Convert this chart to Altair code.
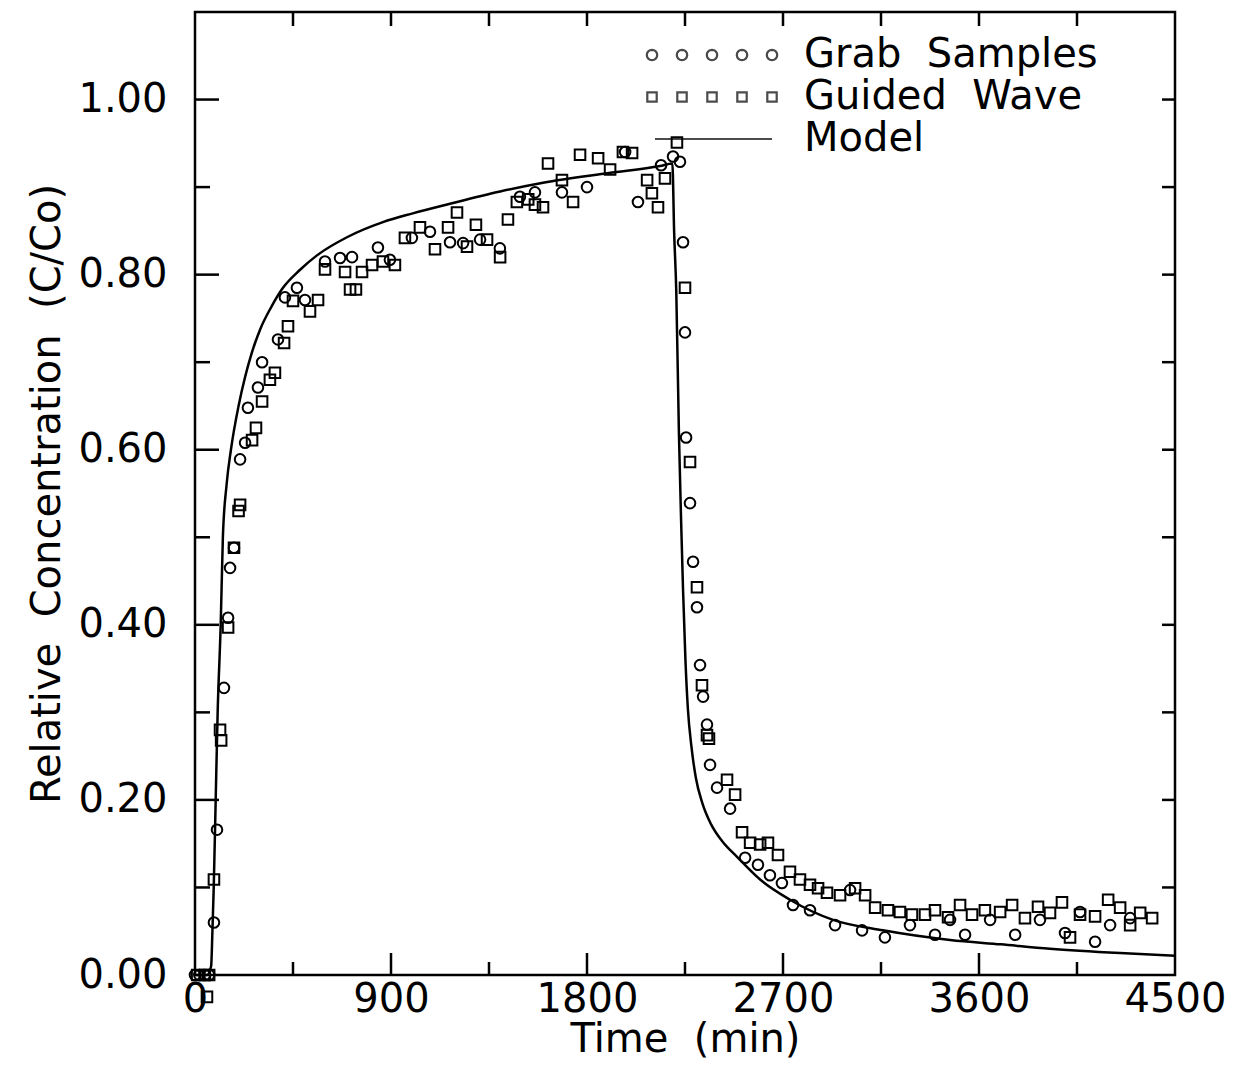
import math
import altair as alt
import pandas as pd

# ---------------- data ----------------
grab_t = [0, 20, 45, 65, 87, 101, 133, 152, 161, 179, 207, 230, 243, 289, 308, 381, 413, 468, 505,
          597, 666, 721, 840, 895, 996, 1079, 1171, 1231, 1309, 1400, 1492, 1561, 1685, 1800, 1975,
          2034, 2140, 2195, 2227,
          2241, 2250, 2255, 2273, 2287, 2305, 2319, 2333, 2351, 2365, 2397, 2457, 2526, 2585, 2640,
          2695, 2746, 2824, 2939, 3008, 3063, 3168, 3283, 3398, 3467, 3536, 3651, 3766, 3880, 3995,
          4064, 4133, 4202, 4294]
grab_c = [0, 0, 0, 0, 0.06, 0.166, 0.328, 0.408, 0.465, 0.488, 0.589, 0.608, 0.648, 0.671, 0.70,
          0.726, 0.774, 0.785, 0.771, 0.815, 0.819, 0.82, 0.831, 0.817, 0.842, 0.849, 0.837, 0.836,
          0.84, 0.83, 0.889, 0.894, 0.894, 0.90, 0.94, 0.883, 0.925, 0.935, 0.929,
          0.837, 0.734, 0.614, 0.539, 0.472, 0.42, 0.354, 0.318, 0.286, 0.24, 0.214, 0.19, 0.134,
          0.126, 0.114, 0.105, 0.08, 0.074, 0.057, 0.097, 0.051, 0.043, 0.057, 0.046, 0.063, 0.046,
          0.063, 0.046, 0.063, 0.048, 0.072, 0.038, 0.057, 0.065]

wave_t = [10, 45, 65, 55, 87, 115, 120, 152, 179, 200, 207, 262, 280, 308, 344, 367, 409, 427, 450,
          528, 565, 597, 689, 712, 739, 767, 813, 863, 918, 964, 1033, 1102, 1162, 1203, 1249, 1290,
          1341, 1401, 1437, 1478, 1530, 1561, 1598, 1621, 1685, 1736, 1768, 1851, 1906, 1965, 2007,
          2076, 2098, 2126, 2158, 2213,
          2250, 2273, 2305, 2328, 2351, 2360, 2443, 2480, 2512, 2549, 2595, 2631, 2677, 2732, 2778,
          2824, 2861, 2902, 2962, 3031, 3077, 3123, 3182, 3237, 3292, 3352, 3398, 3458, 3513, 3568,
          3627, 3697, 3752, 3811, 3871, 3926, 3981, 4018, 4064, 4133, 4193, 4248, 4294, 4340, 4395]
wave_c = [0, 0, 0, -0.025, 0.109, 0.28, 0.268, 0.397, 0.488, 0.53, 0.537, 0.611, 0.625, 0.655, 0.68,
          0.688, 0.722, 0.741, 0.77, 0.758, 0.771, 0.806, 0.803, 0.783, 0.783, 0.803, 0.811, 0.815,
          0.811, 0.842, 0.854, 0.829, 0.854, 0.871, 0.832, 0.857, 0.84, 0.82, 0.863, 0.883, 0.886,
          0.88, 0.877, 0.927, 0.908, 0.883, 0.937, 0.933, 0.92, 0.94, 0.939, 0.908, 0.893, 0.877,
          0.91, 0.951,
          0.785, 0.586, 0.443, 0.331, 0.274, 0.27, 0.223, 0.206, 0.163, 0.151, 0.149, 0.151, 0.137,
          0.118, 0.109, 0.103, 0.099, 0.094, 0.091, 0.099, 0.091, 0.077, 0.074, 0.072, 0.069, 0.069,
          0.074, 0.066, 0.08, 0.069, 0.074, 0.072, 0.08, 0.065, 0.078, 0.071, 0.083, 0.043, 0.069,
          0.067, 0.086, 0.077, 0.057, 0.071, 0.065]

model_t = [0, 55, 74, 80, 86, 95, 104, 118, 128, 145, 165, 200, 230, 260, 300, 350, 404, 480, 560,
           700, 863, 1000, 1171, 1401, 1598, 1900, 2135, 2192, 2200, 2210, 2222, 2232, 2241, 2252,
           2263, 2280, 2300, 2330, 2370, 2420, 2489, 2595, 2732, 2930, 3159, 3467, 3700, 3926, 4248,
           4500]
model_c = [0, 0, 0.01, 0.05, 0.1, 0.2, 0.3, 0.4, 0.5, 0.56, 0.6, 0.65, 0.683, 0.71, 0.738, 0.763,
           0.785, 0.805, 0.822, 0.843, 0.86, 0.87, 0.881, 0.895, 0.905, 0.916, 0.924, 0.927, 0.85,
           0.78, 0.62, 0.52, 0.44, 0.36, 0.305, 0.26, 0.225, 0.196, 0.172, 0.153, 0.135, 0.109,
           0.086, 0.063, 0.051, 0.04, 0.035, 0.03, 0.025, 0.022]

series_names = ["Grab Samples", "Guided Wave", "Model"]
x_labels = [0, 900, 1800, 2700, 3600, 4500]
y_labels = [0.0, 0.2, 0.4, 0.6, 0.8, 1.0]
x_major_ticks = [900, 1800, 2700, 3600]
x_minor_ticks = [450, 1350, 2250, 3150, 4050]
y_major_ticks = [0.2, 0.4, 0.6, 0.8, 1.0]
y_minor_ticks = [0.1, 0.3, 0.5, 0.7, 0.9]

# ---------------- style ----------------
W, H = 980, 963
FONT = "DejaVu Sans"
FS = 40
LW = 2.5


def ring(cx, r, n=16):
    pts = [(cx + r * math.cos(2 * math.pi * k / n), r * math.sin(2 * math.pi * k / n)) for k in range(n)]
    return "M" + "L".join(f"{x:.3f},{y:.3f}" for x, y in pts) + "Z"


def box(cx, h):
    return f"M{cx-h:.3f},{-h:.3f}L{cx+h:.3f},{-h:.3f}L{cx+h:.3f},{h:.3f}L{cx-h:.3f},{h:.3f}Z"


centers = [0, 3, 6, 9, 12]
path_circles = "".join(ring(c, 0.52) for c in centers)
path_squares = "".join(box(c, 0.47) for c in centers)
path_line = "M0.3,0L12.0,0"

pts = pd.DataFrame({
    "t": grab_t + wave_t,
    "c": grab_c + wave_c,
    "series": [series_names[0]] * len(grab_t) + [series_names[1]] * len(wave_t),
})
model = pd.DataFrame({"t": model_t, "c": model_c})

xs = alt.Scale(domain=[0, 4500], nice=False, zero=False)
ys = alt.Scale(domain=[0, 1.1], nice=False, zero=False)

x_axis = alt.Axis(values=x_labels, format="d", ticks=False, domain=False, grid=False,
                  labelFontSize=FS, labelFont=FONT, labelColor="black", labelPadding=4,
                  labelFlush=False, labelOverlap=False,
                  title="Time\u00a0\u00a0(min)", titleFontSize=FS, titleFont=FONT,
                  titleFontWeight="normal", titleColor="black", titlePadding=0)
y_axis = alt.Axis(values=y_labels, format=".2f", ticks=False, domain=False, grid=False,
                  labelFontSize=FS, labelFont=FONT, labelColor="black", labelPadding=28,
                  labelOverlap=False,
                  title="Relative\u00a0\u00a0Concentration\u00a0\u00a0(C/Co)", titleFontSize=FS,
                  titleFont=FONT, titleFontWeight="normal", titleColor="black", titlePadding=10)

points = alt.Chart(pts).mark_point(filled=False, color="black", strokeWidth=2, size=112, opacity=1).encode(
    x=alt.X("t:Q", scale=xs, axis=x_axis),
    y=alt.Y("c:Q", scale=ys, axis=y_axis),
    shape=alt.Shape("series:N", scale=alt.Scale(domain=series_names[:2], range=["circle", "square"]),
                    legend=None),
)

line = alt.Chart(model).mark_line(color="black", strokeWidth=LW, interpolate="monotone").encode(
    x=alt.X("t:Q", scale=xs), y=alt.Y("c:Q", scale=ys)
)

legend_df = pd.DataFrame({"series": series_names, "t": [0, 0, 0], "c": [0, 0, 0]})
legend_layer = alt.Chart(legend_df).transform_filter("false").mark_point(
    filled=False, color="black", strokeWidth=2
).encode(
    x=alt.X("t:Q", scale=xs), y=alt.Y("c:Q", scale=ys),
    shape=alt.Shape("series:N",
                    scale=alt.Scale(domain=series_names, range=[path_circles, path_squares, path_line]),
                    legend=alt.Legend(orient="none", legendX=437, legendY=23, title=None,
                                      symbolSize=400, labelOffset=132, labelFontSize=FS,
                                      labelFont=FONT, labelColor="black", rowPadding=2,
                                      labelLimit=0,
                                      symbolStrokeWidth=2.2, symbolStrokeColor="black",
                                      symbolFillColor="transparent", padding=0,
                                      labelExpr="replace(datum.label, ' ', '\u00a0\u00a0')")),
)


def tick_layer(vals, orient, length):
    df = pd.DataFrame({"v": vals})
    base = alt.Chart(df).mark_rule(color="black", strokeWidth=LW)
    if orient == "bottom":
        return base.encode(x=alt.X("v:Q", scale=xs), y=alt.value(H), y2=alt.value(H - length))
    if orient == "top":
        return base.encode(x=alt.X("v:Q", scale=xs), y=alt.value(0), y2=alt.value(length))
    if orient == "left":
        return base.encode(y=alt.Y("v:Q", scale=ys), x=alt.value(0), x2=alt.value(length))
    return base.encode(y=alt.Y("v:Q", scale=ys), x=alt.value(W), x2=alt.value(W - length))


ticks = [
    tick_layer(x_major_ticks, "bottom", 22),
    tick_layer(x_minor_ticks, "bottom", 13),
    tick_layer(x_major_ticks + x_minor_ticks, "top", 14),
    tick_layer(y_major_ticks, "left", 24),
    tick_layer(y_minor_ticks, "left", 15),
    tick_layer(y_major_ticks + y_minor_ticks, "right", 13),
]

chart = alt.layer(points, line, legend_layer, *ticks).resolve_scale(shape="independent").properties(
    width=W, height=H,
    autosize=alt.AutoSizeParams(type="none"),
    padding={"left": 195, "top": 12, "right": 59, "bottom": 110},
    background="white",
).configure_view(stroke="black", strokeWidth=LW)

chart.save("out.html", embed_options={"renderer": "svg", "actions": False})
